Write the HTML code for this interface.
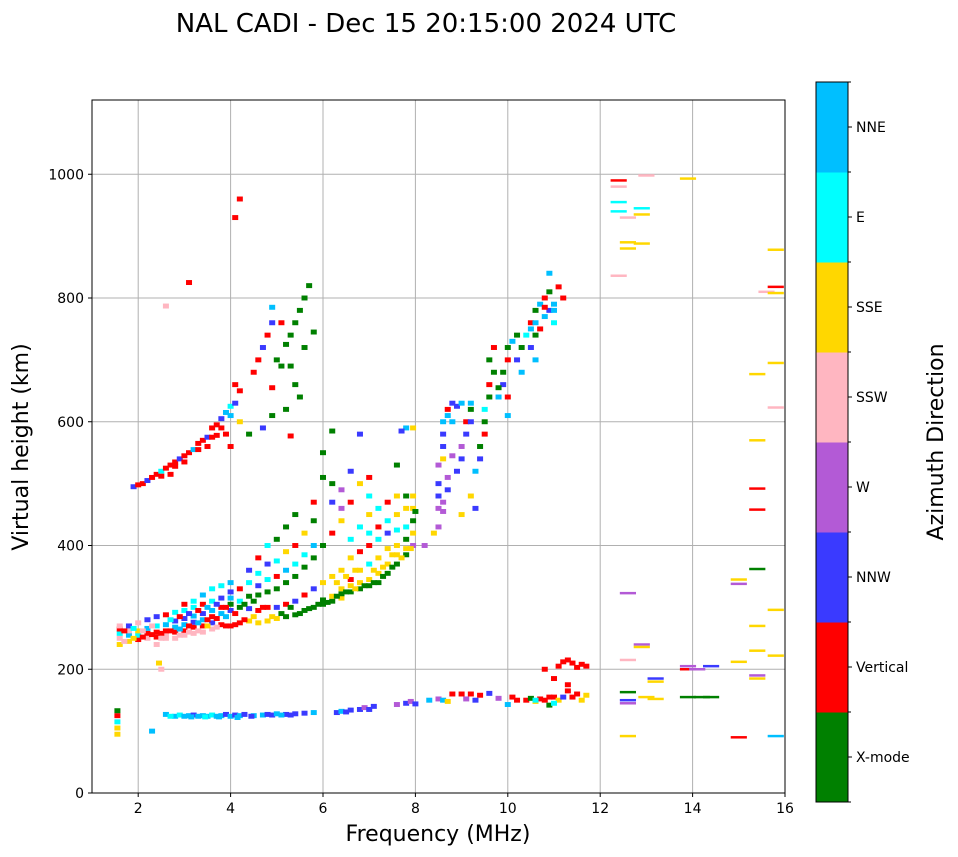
<!DOCTYPE html>
<html><head><meta charset="utf-8"><style>
body{margin:0;background:#fff;}
svg{display:block;font-family:"DejaVu Sans","Liberation Sans",sans-serif;}
</style></head><body>
<svg id="fig" width="958" height="857" viewBox="0 0 958 857">
<text x="426" y="32" font-size="26" text-anchor="middle">NAL CADI - Dec 15 20:15:00 2024 UTC</text>
<g id="grid"></g><g id="marks"></g><g id="axes"></g><g id="cbar"></g>
<text x="438" y="841" font-size="22" text-anchor="middle">Frequency (MHz)</text>
<text transform="translate(28,447) rotate(-90)" font-size="22" text-anchor="middle">Virtual height (km)</text>
<text transform="translate(943,442) rotate(-90)" font-size="22" text-anchor="middle">Azimuth Direction</text>
</svg>
<script>
const xTicks=[2,4,6,8,10,12,14,16];
const yTicks=[0,200,400,600,800,1000];
const dirNames=["X-mode","Vertical","NNW","W","SSW","SSE","E","NNE"];
const dirColors=["#008000","#ff0000","#3a3aff","#b35ad6","#ffb6c1","#ffd700","#00ffff","#00bfff"];
// [freq MHz, height km, direction index]
const points=[
[1.55,95,5],[1.55,105,5],[1.55,115,6],[1.55,125,1],[1.55,133,0],[2.3,100,7],[2.6,127,7],[2.8,124,7],[2.9,126,6],[3.0,124,7],[3.1,125,7],[3.2,126,2],[3.3,124,7],[3.4,125,7],[3.5,124,7],[3.6,126,6],[3.7,124,7],[3.8,125,7],[3.9,127,2],[4.0,124,7],[4.1,126,2],[4.2,125,7],[4.3,127,2],[4.5,125,7],[4.7,126,7],[4.8,127,2],[4.9,126,2],[5.0,128,7],[5.2,127,2],[5.4,128,2],[5.6,129,2],[5.8,130,7],[6.3,130,2],[6.4,132,7],[6.5,131,2],[6.8,135,2],[6.9,138,3],[7.0,135,2],[7.1,140,2],[7.6,143,3],[7.8,145,2],[7.9,148,3],[8.0,144,2],[8.3,150,7],[8.5,152,3],[8.6,150,7],[8.8,160,1],[9.0,160,1],[9.1,152,3],[9.2,160,1],[9.4,158,1],[9.6,161,2],[9.8,153,3],[10.0,143,7],[10.2,150,1],[10.4,150,1],[10.5,153,0],[10.6,148,5],[10.8,150,1],[10.9,142,0],[11.0,155,1],[11.1,150,5],[11.2,155,2],[11.3,165,1],[11.5,160,1],[11.6,150,5],[11.1,205,1],[11.2,212,1],[11.4,210,1],[11.6,208,1],[10.8,200,1],[11.3,175,1],[11.0,185,1],
[2.7,124,6],[3.15,123,7],[3.45,123,6],[3.75,123,7],[4.15,122,7],[4.45,124,2],[5.1,126,7],[5.3,126,2],[6.6,134,2],[8.7,148,5],[9.3,150,2],[10.1,155,1],[10.7,152,1],[10.9,155,1],[11.4,155,1],[11.7,158,5],[11.3,215,1],[11.5,203,1],[11.7,205,1],[10.6,150,6],[11.0,145,6],
[12.4,990,1],[12.4,980,4],[12.4,955,6],[12.4,940,6],[12.6,930,4],[12.6,880,5],[12.6,890,5],[12.9,945,6],[12.9,935,5],[12.9,888,5],[13.0,998,4],[13.9,993,5],[12.4,836,4],[15.8,878,5],[15.8,818,1],[15.6,810,4],[15.8,808,5],[15.8,695,5],[15.4,677,5],[15.8,623,4],[15.4,570,5],[15.4,492,1],[15.4,458,1],[15.4,362,0],[15.0,345,5],[15.0,338,3],[15.8,296,5],[15.4,270,5],[15.4,230,5],[15.8,222,5],[15.0,212,5],[15.4,190,3],[15.4,185,5],[15.8,92,7],[15.0,90,1],[12.6,323,3],[12.6,215,4],[12.6,163,0],[12.6,150,2],[12.6,145,3],[12.6,92,5],[12.9,240,3],[12.9,236,5],[13.0,155,5],[13.2,185,2],[13.2,180,5],[13.2,152,5],[13.9,205,3],[13.9,200,1],[13.9,155,0],[14.2,155,0],[14.4,205,2],[14.4,155,0],[14.1,200,3],
[1.6,240,5],[1.6,250,4],[1.6,258,6],[1.6,265,1],[1.6,270,4],[1.8,245,5],[1.8,255,7],[1.8,262,4],[1.8,270,2],[2.0,248,1],[2.0,255,6],[2.0,262,5],[2.0,275,4],[2.2,250,4],[2.2,258,1],[2.2,266,7],[2.2,280,2],[2.4,252,1],[2.4,260,1],[2.4,270,6],[2.4,285,2],[2.4,240,4],[2.6,255,4],[2.6,262,1],[2.6,272,7],[2.6,288,1],[2.6,250,4],[2.45,210,5],[2.5,200,4],[2.8,260,1],[2.8,268,7],[2.8,278,2],[2.8,292,6],[2.8,250,4],[3.0,262,1],[3.0,272,7],[3.0,282,2],[3.0,295,6],[3.0,255,4],[3.0,305,1],[3.2,268,1],[3.2,276,2],[3.2,286,7],[3.2,300,6],[3.2,258,4],[3.2,310,6],[3.4,270,1],[3.4,280,7],[3.4,290,2],[3.4,305,1],[3.4,260,4],[3.4,320,7],[3.6,275,2],[3.6,285,1],[3.6,295,7],[3.6,310,6],[3.6,265,4],[3.6,330,6],[3.8,272,1],[3.8,290,7],[3.8,300,1],[3.8,315,2],[3.8,335,6],[4.0,270,1],[4.0,295,2],[4.0,305,0],[4.0,315,7],[4.0,325,2],[4.0,340,7],[4.2,275,1],[4.2,300,0],[4.2,310,6],[4.2,330,1],[4.4,278,5],[4.4,298,2],[4.4,318,0],[4.4,340,6],[4.4,360,2],[4.6,275,5],[4.6,295,1],[4.6,320,0],[4.6,335,2],[4.6,355,6],[4.6,380,1],[4.8,278,5],[4.8,300,1],[4.8,325,0],[4.8,345,6],[4.8,370,2],[4.8,400,6],[5.0,282,5],[5.0,300,2],[5.0,330,0],[5.0,350,1],[5.0,375,6],[5.0,410,0],[5.2,285,0],[5.2,305,1],[5.2,340,0],[5.2,360,7],[5.2,390,5],[5.2,430,0],[5.4,288,0],[5.4,310,2],[5.4,350,0],[5.4,370,6],[5.4,400,1],[5.4,450,0],[5.6,295,0],[5.6,320,1],[5.6,365,0],[5.6,385,6],[5.6,420,5],[5.8,300,0],[5.8,330,2],[5.8,380,0],[5.8,400,7],[5.8,440,0],[5.8,470,1],[6.0,305,0],[6.0,312,0],[6.0,340,5],[6.0,400,0],[6.0,510,0],[6.0,550,0],[6.2,310,0],[6.2,318,5],[6.2,350,5],[6.2,420,1],[6.2,470,2],[6.2,500,0],[6.2,585,0],[6.4,315,5],[6.4,322,0],[6.4,330,5],[6.4,360,5],[6.4,440,5],[6.4,460,3],[6.4,490,3],[6.6,325,0],[6.6,335,5],[6.6,345,1],[6.6,380,5],[6.6,410,6],[6.6,470,1],[6.6,520,2],[6.8,330,0],[6.8,340,5],[6.8,360,5],[6.8,390,1],[6.8,430,6],[6.8,500,5],[6.8,580,2],[7.0,335,0],[7.0,345,5],[7.0,370,6],[7.0,400,1],[7.0,420,6],[7.0,450,5],[7.0,480,6],[7.0,510,1],[7.2,340,0],[7.2,355,5],[7.2,380,5],[7.2,410,6],[7.2,430,1],[7.2,460,6],[7.4,355,0],[7.4,370,5],[7.4,395,5],[7.4,420,2],[7.4,440,6],[7.4,470,1],[7.6,370,0],[7.6,385,5],[7.6,400,5],[7.6,425,6],[7.6,450,5],[7.6,480,5],[7.6,530,0],[7.8,385,0],[7.8,395,5],[7.8,410,0],[7.8,430,6],[7.8,460,5],[7.8,480,0],[7.8,590,7],[7.7,585,2],[7.95,400,3],[7.95,420,5],[7.95,440,0],[7.95,460,5],[7.95,480,5],[7.95,590,5],
[1.7,245,4],[1.7,262,1],[1.9,250,5],[1.9,266,6],[2.1,252,1],[2.1,262,4],[2.3,256,1],[2.3,270,4],[2.5,258,1],[2.5,250,4],[2.7,262,1],[2.7,280,6],[2.9,265,7],[2.9,285,1],[2.9,255,4],[3.1,270,1],[3.1,290,2],[3.1,260,4],[3.3,275,7],[3.3,295,1],[3.3,262,4],[3.5,280,1],[3.5,300,7],[3.5,270,5],[3.7,282,1],[3.7,305,2],[3.7,268,4],[3.9,285,7],[3.9,300,1],[3.9,270,1],[4.1,290,1],[4.1,272,1],[4.3,280,1],[4.3,305,0],[4.5,285,5],[4.5,310,0],[4.7,300,1],[4.9,285,5],[5.1,290,0],[5.3,300,0],[5.5,290,0],[5.7,298,0],[5.9,305,0],[6.1,308,0],[6.3,318,0],[6.5,325,0],[6.7,330,5],[6.9,335,0],[7.1,340,0],[7.3,350,0],[7.5,365,0],[7.7,380,5],[7.9,395,5],[6.3,340,5],[6.5,350,5],[6.7,360,5],[7.1,360,5],[7.3,365,5],[7.5,385,5],
[1.9,495,2],[2.0,498,1],[2.1,500,1],[2.2,505,2],[2.3,510,1],[2.4,515,1],[2.5,520,6],[2.6,525,1],[2.7,530,1],[2.8,535,1],[2.9,540,2],[3.0,545,1],[3.1,550,1],[3.2,555,7],[3.3,565,1],[3.4,570,1],[3.5,575,2],[3.6,590,1],[3.7,595,1],[3.8,605,2],[3.9,615,7],[4.0,625,6],[4.1,630,2],[4.1,660,1],[3.9,580,1],[3.5,560,1],[2.7,515,1],[4.2,650,1],[4.2,960,1],[4.1,930,1],[3.1,825,1],[2.6,787,4],[4.5,680,1],[4.6,700,1],[4.7,720,2],[4.8,740,1],[4.9,760,2],[4.9,785,7],[5.0,700,0],[5.1,690,0],[5.2,725,0],[5.3,740,0],[5.4,760,0],[5.5,780,0],[5.6,800,0],[5.7,820,0],[5.3,690,0],[5.4,660,0],[5.5,640,0],[5.2,620,0],[4.9,610,0],[4.7,590,2],[4.4,580,0],[4.2,600,5],[4.0,560,1],[5.3,577,1],[4.9,655,1],[5.6,720,0],[5.8,745,0],[5.1,760,1],
[2.5,512,1],[2.8,528,1],[3.0,535,1],[3.3,555,1],[3.6,575,1],[3.8,590,1],[4.0,610,7],[3.7,578,1],
[8.0,455,0],[8.2,400,3],[8.4,420,5],[8.5,430,3],[8.5,460,3],[8.6,470,3],[8.5,480,2],[8.5,500,2],[8.5,530,3],[8.6,540,5],[8.6,560,2],[8.6,580,2],[8.6,600,7],[8.7,620,1],[8.8,630,2],[8.9,520,2],[9.0,540,2],[9.0,560,3],[9.1,580,2],[9.1,600,1],[9.2,620,0],[9.2,630,7],[9.3,520,7],[9.4,540,2],[9.4,560,0],[9.5,580,1],[9.5,600,0],[9.5,620,6],[9.6,640,0],[9.6,660,1],[9.7,680,0],[9.6,700,0],[9.8,640,7],[9.9,660,2],[9.9,680,0],[10.0,610,7],[10.0,640,1],[10.0,700,1],[10.0,720,0],[10.2,740,0],[10.2,700,2],[10.3,680,7],[10.4,740,6],[10.5,760,1],[10.5,720,2],[10.6,700,7],[10.6,780,0],[10.7,790,7],[10.7,750,1],[10.8,800,1],[10.8,770,7],[10.9,810,0],[10.9,780,2],[11.0,790,7],[11.0,760,6],[11.2,800,1],[11.1,818,1],[10.9,840,7],[10.3,720,0],[10.6,740,0],[9.7,720,1],[9.3,460,2],[9.2,480,5],[9.0,450,5],
[8.7,610,7],[8.8,600,7],[8.9,625,2],[9.0,630,7],[8.7,510,3],[8.7,490,2],[8.6,455,3],[8.8,545,3],[9.2,600,2],[9.8,655,0],[10.1,730,7],[10.5,750,7],[10.8,785,1],[11.0,780,7],[10.6,760,7]
];
const X0=92,X1=785,Y0=793,Y1=100,XMIN=1,XMAX=16,YMIN=0,YMAX=1120;
const xs=v=>X0+(v-XMIN)/(XMAX-XMIN)*(X1-X0);
const ys=v=>Y0-(v-YMIN)/(YMAX-YMIN)*(Y0-Y1);
const NS="http://www.w3.org/2000/svg";
function mk(tag,attrs,parent){const e=document.createElementNS(NS,tag);for(const k in attrs)e.setAttribute(k,attrs[k]);parent.appendChild(e);return e;}
const grid=document.getElementById('grid'),marks=document.getElementById('marks'),axes=document.getElementById('axes'),cbar=document.getElementById('cbar');
xTicks.forEach(t=>{const l=mk('line',{x1:xs(t),x2:xs(t),y1:Y1,y2:Y0,stroke:'#b0b0b0','stroke-width':1},grid);


const tk=mk('line',{x1:xs(t),x2:xs(t),y1:Y0,y2:Y0+4,stroke:'#000'},axes);


const tx=mk('text',{x:xs(t),y:Y0+20,'font-size':14,'text-anchor':'middle'},axes);tx.textContent=t;

});
yTicks.forEach(t=>{const l=mk('line',{x1:X0,x2:X1,y1:ys(t),y2:ys(t),stroke:'#b0b0b0','stroke-width':1},grid);


const tk=mk('line',{x1:X0-4,x2:X0,y1:ys(t),y2:ys(t),stroke:'#000'},axes);


const tx=mk('text',{x:X0-8,y:ys(t)+5,'font-size':14,'text-anchor':'end'},axes);tx.textContent=t;

});
points.forEach(p=>{const w=p[0]>12?0.35:0.13;const h=p[0]>12?4:8;
const r=mk('rect',{x:xs(p[0]-w/2),y:ys(p[1]+h/2),width:xs(w)-xs(0),height:ys(0)-ys(h),fill:dirColors[p[2]]},marks);

});
const frame=mk('rect',{x:X0,y:Y1,width:X1-X0,height:Y0-Y1,fill:'none',stroke:'#000','stroke-width':1},axes);


const CX=816,CW=32,CT=82,CB=802,seg=(CB-CT)/dirNames.length;
dirNames.forEach((n,i)=>{const y=CB-(i+1)*seg;
const r=mk('rect',{x:CX,y:y,width:CW,height:seg+0.5,fill:dirColors[i]},cbar);


const tk=mk('line',{x1:CX+CW,x2:CX+CW+4,y1:y+seg/2,y2:y+seg/2,stroke:'#000'},cbar);


const tx=mk('text',{x:CX+CW+8,y:y+seg/2+5,'font-size':14},cbar);tx.textContent=n;

});
for(let i=0;i<=dirNames.length;i++){const y=CB-i*seg;const l=mk('line',{x1:CX+CW,x2:CX+CW+3,y1:y,y2:y,stroke:'#000'},cbar);

}
const cf=mk('rect',{x:CX,y:CT,width:CW,height:CB-CT,fill:'none',stroke:'#000'},cbar);


</script>
</body></html>
